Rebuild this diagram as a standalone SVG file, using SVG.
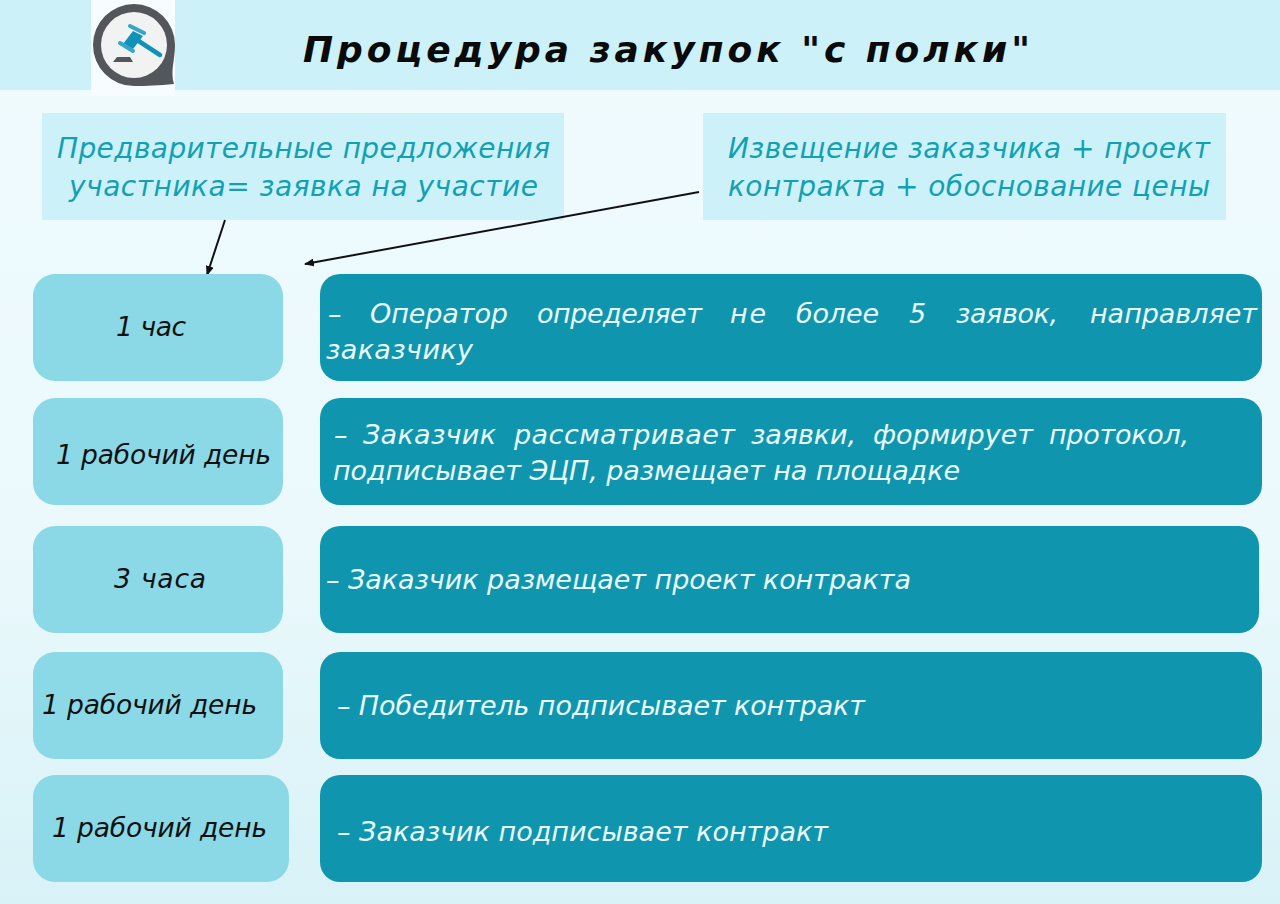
<svg xmlns="http://www.w3.org/2000/svg" width="1280" height="904" viewBox="0 0 1280 904">
<style>
.t{font-family:"DejaVu Sans","Liberation Sans",sans-serif;font-style:italic}
.l{font-size:26.5px;fill:#111}
.d{font-size:27px;fill:#eafafd}
.h{font-size:28px;fill:#12a0b4}
.left{fill:#8bd8e6}
.dark{fill:#0f96ae}
.note{fill:#cdf1f8}
.c{stroke:#111;stroke-width:2;fill:none;marker-end:url(#a)}
</style>
<defs>
<linearGradient id="bg" x1="0" y1="0" x2="0" y2="1"><stop offset="0" stop-color="#f0fbfe"/><stop offset=".6" stop-color="#ebf9fc"/><stop offset="1" stop-color="#d8f2f7"/></linearGradient>
<marker id="a" markerWidth="10" markerHeight="8" refX="9" refY="4" orient="auto" markerUnits="userSpaceOnUse"><path d="M0 0L10 4L0 8Z" fill="#111"/></marker>
</defs>
<rect width="1280" height="904" fill="url(#bg)"/>
<rect width="1280" height="90" fill="#cdf1f8"/>
<g id="logo">
<rect x="91" y="0" width="84" height="96" fill="#f7fdfe"/>
<path d="M93 45A41 41 0 0 1 175 45C175 60 170 72 174 84Q152 86 134 86A41 41 0 0 1 93 45Z" fill="#53565a"/>
<circle cx="134" cy="45" r="33" fill="#f1f3f3"/>
<path d="M133 31L143 36L133 49L123 44Z" fill="#1291b8"/>
<path d="M130 26L144 33M120 43L133 51" stroke="#35a6c8" stroke-width="4" stroke-linecap="round"/>
<path d="M137 40L160 55" stroke="#1291b8" stroke-width="4.5" stroke-linecap="round"/>
<path d="M117 57H130L133 62H113Z" fill="#53565a"/>
</g>
<text id="title" x="303" y="62" textLength="727" font-family="DejaVu Sans,Liberation Sans,sans-serif" font-style="italic" font-weight="700" font-size="36" fill="#0a0a0a">Процедура закупок "с полки"</text>
<g id="note-left"><rect class="note" x="42" y="113" width="522" height="107"/><text class="t h" x="57" y="158" textLength="493">Предварительные предложения</text><text class="t h" x="69" y="196" textLength="469">участника= заявка на участие</text></g>
<g id="note-right"><rect class="note" x="703" y="113" width="523" height="107"/><text class="t h" x="728" y="158" textLength="482">Извещение заказчика + проект</text><text class="t h" x="728" y="196" textLength="482">контракта + обоснование цены</text></g>
<g id="connectors"><path class="c" d="M225 220L207 275"/><path class="c" d="M699 192L305 264"/></g>
<g id="n1"><rect class="left" x="33" y="274" width="250" height="107" rx="22"/><text class="t l" x="116" y="336" textLength="70">1 час</text><rect class="dark" x="320" y="274" width="942" height="107" rx="20"/><text class="t d" x="328" y="323"><tspan>–</tspan><tspan x="370" textLength="138">Оператор</tspan><tspan x="537" textLength="165">определяет</tspan><tspan x="730" textLength="36">не</tspan><tspan x="796" textLength="83">более</tspan><tspan x="909" textLength="17">5</tspan><tspan x="956" textLength="102">заявок,</tspan><tspan x="1090" textLength="167">направляет</tspan></text><text class="t d" x="326" y="359" textLength="147">заказчику</text></g>
<g id="n2"><rect class="left" x="33" y="398" width="250" height="107" rx="22"/><text class="t l" x="56" y="464" textLength="215">1 рабочий день</text><rect class="dark" x="320" y="398" width="942" height="107" rx="20"/><text class="t d" x="334" y="444"><tspan>–</tspan><tspan x="363" textLength="133">Заказчик</tspan><tspan x="514" textLength="221">рассматривает</tspan><tspan x="751" textLength="105">заявки,</tspan><tspan x="873" textLength="160">формирует</tspan><tspan x="1049" textLength="140">протокол,</tspan></text><text class="t d" x="333" y="480" textLength="627">подписывает ЭЦП, размещает на площадке</text></g>
<g id="n3"><rect class="left" x="33" y="526" width="250" height="107" rx="22"/><text class="t l" x="114" y="588" textLength="92">3 часа</text><rect class="dark" x="320" y="526" width="939" height="107" rx="20"/><text class="t d" x="326" y="589" textLength="585">– Заказчик размещает проект контракта</text></g>
<g id="n4"><rect class="left" x="33" y="652" width="250" height="107" rx="22"/><text class="t l" x="42" y="714" textLength="215">1 рабочий день</text><rect class="dark" x="320" y="652" width="942" height="107" rx="20"/><text class="t d" x="337" y="715" textLength="528">– Победитель подписывает контракт</text></g>
<g id="n5"><rect class="left" x="33" y="775" width="256" height="107" rx="22"/><text class="t l" x="52" y="837" textLength="215">1 рабочий день</text><rect class="dark" x="320" y="775" width="942" height="107" rx="20"/><text class="t d" x="337" y="841" textLength="491">– Заказчик подписывает контракт</text></g>
</svg>
